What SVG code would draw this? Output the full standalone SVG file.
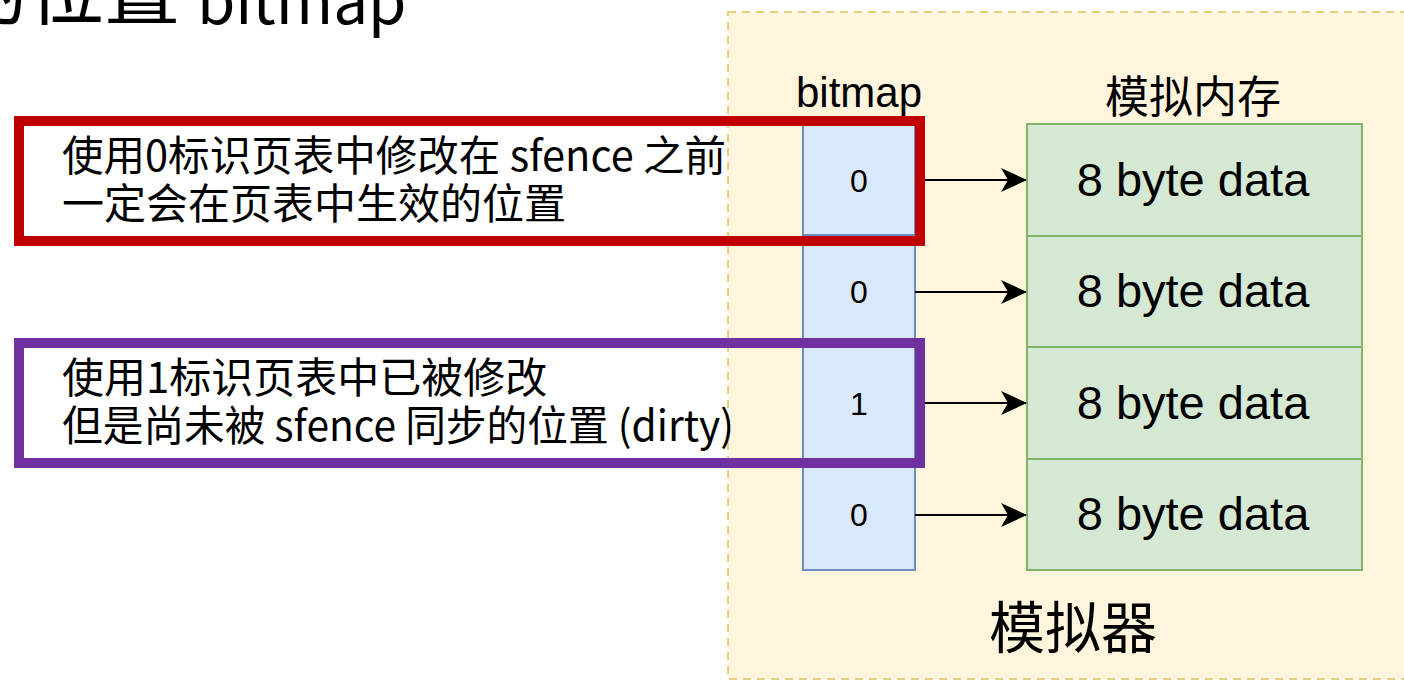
<svg xmlns="http://www.w3.org/2000/svg" width="1404" height="681" viewBox="0 0 1404 681">
<style>
.cjk{font-family:"Noto Sans CJK SC","Noto Sans",sans-serif;fill:#000}
.lat{font-family:"Liberation Sans",Arial,sans-serif;fill:#000}
.bit{fill:#dae8fc;stroke:#6c8ebf;stroke-width:2}
.mem{fill:#d5e8d4;stroke:#82b366;stroke-width:2}
.conn{stroke:#000;stroke-width:2;fill:none}
</style>
<defs>
<marker id="ah" viewBox="0 0 26 26" refX="25" refY="13" markerWidth="26" markerHeight="26" markerUnits="userSpaceOnUse" orient="auto">
<path d="M0,1 L26,13 L0,25 L7,13 z" fill="#000"/>
</marker>
</defs>
<rect width="1404" height="681" fill="#fff"/>
<g id="title">
<text class="cjk" x="-48" y="19" font-size="76">的位置</text>
<text class="cjk" x="197" y="24" font-size="62">bitmap</text>
</g>
<g id="simulator">
<rect x="728" y="12" width="700" height="667" fill="#fff5dd" stroke="#e6cf80" stroke-width="2" stroke-dasharray="8,6"/>
<text class="cjk" x="1073" y="648" font-size="56" text-anchor="middle">模拟器</text>
</g>
<g id="bitmap-header"><text class="lat" x="859" y="107" font-size="42" text-anchor="middle">bitmap</text></g>
<g id="mem-header"><text class="cjk" x="1193" y="113" font-size="44" text-anchor="middle">模拟内存</text></g>
<g id="bit0"><rect class="bit" x="803" y="124" width="112" height="111"/><text class="lat" x="859" y="192" font-size="32" text-anchor="middle">0</text></g>
<g id="bit1"><rect class="bit" x="803" y="235" width="112" height="112"/><text class="lat" x="859" y="303" font-size="32" text-anchor="middle">0</text></g>
<g id="bit2"><rect class="bit" x="803" y="347" width="112" height="112"/><text class="lat" x="859" y="415" font-size="32" text-anchor="middle">1</text></g>
<g id="bit3"><rect class="bit" x="803" y="459" width="112" height="111"/><text class="lat" x="859" y="526" font-size="32" text-anchor="middle">0</text></g>
<g id="mem0"><rect class="mem" x="1027" y="124" width="335" height="112"/><text class="lat" x="1193" y="196" font-size="47" text-anchor="middle">8 byte data</text></g>
<g id="mem1"><rect class="mem" x="1027" y="236" width="335" height="111"/><text class="lat" x="1193" y="307" font-size="47" text-anchor="middle">8 byte data</text></g>
<g id="mem2"><rect class="mem" x="1027" y="347" width="335" height="112"/><text class="lat" x="1193" y="419" font-size="47" text-anchor="middle">8 byte data</text></g>
<g id="mem3"><rect class="mem" x="1027" y="459" width="335" height="111"/><text class="lat" x="1193" y="530" font-size="47" text-anchor="middle">8 byte data</text></g>
<g id="connectors">
<line class="conn" x1="915" y1="180" x2="1026" y2="180" marker-end="url(#ah)"/>
<line class="conn" x1="915" y1="292" x2="1026" y2="292" marker-end="url(#ah)"/>
<line class="conn" x1="915" y1="403" x2="1026" y2="403" marker-end="url(#ah)"/>
<line class="conn" x1="915" y1="515" x2="1026" y2="515" marker-end="url(#ah)"/>
</g>
<g id="note-clean">
<rect x="19" y="121" width="901" height="120" fill="none" stroke="#c00000" stroke-width="10"/>
<text class="cjk" x="62" y="171" font-size="42" textLength="664" lengthAdjust="spacingAndGlyphs">使用0标识页表中修改在 sfence 之前</text>
<text class="cjk" x="62" y="219" font-size="42">一定会在页表中生效的位置</text>
</g>
<g id="note-dirty">
<rect x="19" y="343" width="901" height="120" fill="none" stroke="#7030a0" stroke-width="10"/>
<text class="cjk" x="62" y="393" font-size="42">使用1标识页表中已被修改</text>
<text class="cjk" x="62" y="441" font-size="42" textLength="672" lengthAdjust="spacingAndGlyphs">但是尚未被 sfence 同步的位置 (dirty)</text>
</g>
</svg>
